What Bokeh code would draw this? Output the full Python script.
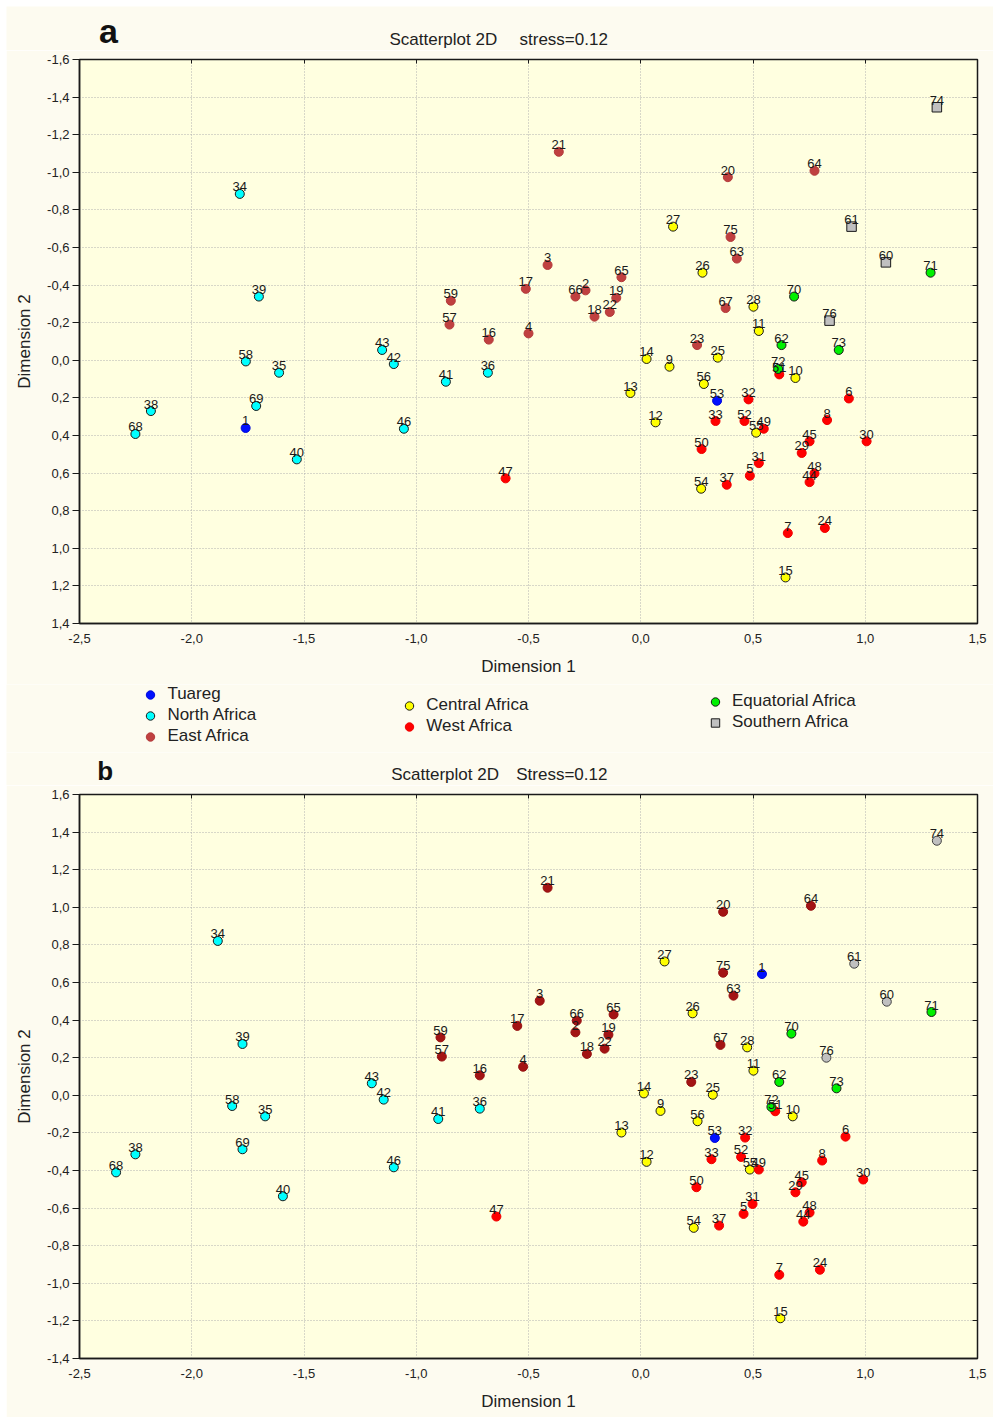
from bokeh.plotting import figure
from bokeh.models import (ColumnDataSource, Range1d, FixedTicker, LinearAxis,
                          CustomJSTickFormatter, Label, Legend, LegendItem)
from bokeh.layouts import column
from bokeh.core.properties import value
from bokeh.embed import file_html
from bokeh.resources import INLINE

FONT = "Liberation Sans"
PAGE_BG = "#FDFBF0"
PLOT_BG = "#FFFFE0"
INK = "#1A1A1A"

# ---- axis ticks ----------------------------------------------------------
X_TICKS = [-2.5, -2.0, -1.5, -1.0, -0.5, 0.0, 0.5, 1.0, 1.5]
Y_TICKS_A = [-1.6, -1.4, -1.2, -1.0, -0.8, -0.6, -0.4, -0.2, 0.0,
             0.2, 0.4, 0.6, 0.8, 1.0, 1.2, 1.4]
Y_TICKS_B = [-1.4, -1.2, -1.0, -0.8, -0.6, -0.4, -0.2, 0.0,
             0.2, 0.4, 0.6, 0.8, 1.0, 1.2, 1.4, 1.6]

# ---- MDS coordinates per population group --------------------------------
TUAREG_ID = [1, 53]
TUAREG_A_D1 = [-1.76, 0.34]
TUAREG_A_D2 = [0.36, 0.215]
TUAREG_B_D1 = [0.54, 0.33]
TUAREG_B_D2 = [0.645, -0.227]

NORTH_ID = [34, 39, 58, 35, 43, 42, 41, 36, 38, 68, 69, 46, 40]
NORTH_A_D1 = [-1.786, -1.701, -1.759, -1.611, -1.152, -1.100, -0.868,
              -0.681, -2.182, -2.251, -1.713, -1.055, -1.532]
NORTH_A_D2 = [-0.885, -0.339, 0.006, 0.066, -0.055, 0.020, 0.114,
              0.066, 0.270, 0.392, 0.243, 0.364, 0.527]
NORTH_B_D1 = [-1.884, -1.774, -1.820, -1.673, -1.198, -1.145, -0.902,
              -0.717, -2.251, -2.337, -1.774, -1.100, -1.594]
NORTH_B_D2 = [0.821, 0.273, -0.057, -0.112, 0.064, -0.023, -0.126,
              -0.071, -0.314, -0.410, -0.287, -0.383, -0.537]

EAST_ID = [2, 3, 4, 16, 17, 18, 19, 20, 21, 22, 23, 57, 59, 63, 64, 65, 66, 67, 75]
EAST_A_D1 = [-0.246, -0.415, -0.500, -0.677, -0.512, -0.206, -0.109, 0.388,
             -0.365, -0.138, 0.251, -0.852, -0.846, 0.428, 0.774, -0.086,
             -0.291, 0.378, 0.400]
EAST_A_D2 = [-0.372, -0.507, -0.143, -0.110, -0.380, -0.232, -0.332, -0.974,
             -1.109, -0.257, -0.081, -0.190, -0.317, -0.541, -1.008, -0.442,
             -0.339, -0.278, -0.656]
EAST_B_D1 = [-0.291, -0.450, -0.524, -0.717, -0.550, -0.240, -0.144, 0.367,
             -0.415, -0.161, 0.225, -0.886, -0.892, 0.413, 0.758, -0.121,
             -0.285, 0.355, 0.367]
EAST_B_D2 = [0.335, 0.503, 0.152, 0.106, 0.369, 0.220, 0.322, 0.976,
             1.104, 0.248, 0.071, 0.206, 0.308, 0.530, 1.008, 0.430,
             0.397, 0.268, 0.652]

CENTRAL_ID = [9, 10, 11, 12, 13, 14, 15, 25, 26, 27, 28, 54, 55, 56]
CENTRAL_A_D1 = [0.128, 0.689, 0.526, 0.066, -0.046, 0.026, 0.645, 0.343,
                0.275, 0.144, 0.502, 0.269, 0.514, 0.281]
CENTRAL_A_D2 = [0.034, 0.094, -0.156, 0.330, 0.174, -0.007, 1.155, -0.014,
                -0.466, -0.711, -0.285, 0.683, 0.385, 0.126]
CENTRAL_B_D1 = [0.088, 0.677, 0.502, 0.026, -0.086, 0.014, 0.622, 0.321,
                0.231, 0.106, 0.474, 0.236, 0.486, 0.253]
CENTRAL_B_D2 = [-0.083, -0.112, 0.131, -0.354, -0.198, 0.010, -1.186, 0.003,
                0.436, 0.712, 0.255, -0.705, -0.395, -0.138]

WEST_ID = [5, 6, 7, 8, 24, 29, 30, 31, 32, 33, 37, 44, 45, 47, 48, 49, 50, 51, 52]
WEST_A_D1 = [0.486, 0.927, 0.655, 0.830, 0.820, 0.717, 1.006, 0.526, 0.480,
             0.333, 0.383, 0.752, 0.752, -0.602, 0.774, 0.548, 0.271, 0.617, 0.462]
WEST_A_D2 = [0.614, 0.203, 0.919, 0.318, 0.892, 0.493, 0.431, 0.547, 0.208,
             0.323, 0.662, 0.648, 0.431, 0.628, 0.602, 0.364, 0.472, 0.075, 0.323]
WEST_B_D1 = [0.458, 0.912, 0.617, 0.808, 0.798, 0.689, 0.991, 0.498, 0.465,
             0.315, 0.349, 0.724, 0.717, -0.643, 0.752, 0.526, 0.248, 0.599, 0.447]
WEST_B_D2 = [-0.631, -0.220, -0.955, -0.347, -0.928, -0.516, -0.448, -0.578,
             -0.225, -0.340, -0.693, -0.672, -0.463, -0.645, -0.624, -0.395,
             -0.489, -0.085, -0.328]

EQUATORIAL_ID = [62, 70, 71, 72, 73]
EQUATORIAL_A_D1 = [0.627, 0.683, 1.291, 0.612, 0.882]
EQUATORIAL_A_D2 = [-0.081, -0.339, -0.466, 0.046, -0.055]
EQUATORIAL_B_D1 = [0.617, 0.671, 1.295, 0.582, 0.872]
EQUATORIAL_B_D2 = [0.071, 0.328, 0.443, -0.062, 0.037]

SOUTHERN_ID = [60, 61, 74, 76]
SOUTHERN_A_D1 = [1.092, 0.939, 1.319, 0.841]
SOUTHERN_A_D2 = [-0.521, -0.711, -1.346, -0.211]
SOUTHERN_B_D1 = [1.096, 0.951, 1.319, 0.827]
SOUTHERN_B_D2 = [0.498, 0.700, 1.354, 0.200]

GROUPS = [
    ("Tuareg", TUAREG_ID, TUAREG_A_D1, TUAREG_A_D2, TUAREG_B_D1, TUAREG_B_D2),
    ("North Africa", NORTH_ID, NORTH_A_D1, NORTH_A_D2, NORTH_B_D1, NORTH_B_D2),
    ("East Africa", EAST_ID, EAST_A_D1, EAST_A_D2, EAST_B_D1, EAST_B_D2),
    ("Central Africa", CENTRAL_ID, CENTRAL_A_D1, CENTRAL_A_D2, CENTRAL_B_D1, CENTRAL_B_D2),
    ("West Africa", WEST_ID, WEST_A_D1, WEST_A_D2, WEST_B_D1, WEST_B_D2),
    ("Equatorial Africa", EQUATORIAL_ID, EQUATORIAL_A_D1, EQUATORIAL_A_D2,
     EQUATORIAL_B_D1, EQUATORIAL_B_D2),
    ("Southern Africa", SOUTHERN_ID, SOUTHERN_A_D1, SOUTHERN_A_D2,
     SOUTHERN_B_D1, SOUTHERN_B_D2),
]

# marker styles: (marker, fill, outline)
STYLE_A = {
    "Tuareg": ("circle", "#0010FF", "#0008D8"),
    "North Africa": ("circle", "#00FFFF", INK),
    "East Africa": ("circle", "#C04040", "#B33A3A"),
    "Central Africa": ("circle", "#FFFF00", INK),
    "West Africa": ("circle", "#FF0000", "#F00000"),
    "Equatorial Africa": ("circle", "#00F000", INK),
    "Southern Africa": ("square", "#C0C0C0", INK),
}
STYLE_B = dict(STYLE_A)
STYLE_B["East Africa"] = ("circle", "#A31414", "#961010")
STYLE_B["Southern Africa"] = ("circle", "#C0C0C0", "#404040")

comma_fmt = CustomJSTickFormatter(code="return tick.toFixed(1).replace('.', ',');")
blank_fmt = CustomJSTickFormatter(code="return '';")


def blank_strip(height, margin):
    """A plain strip (no axes) used for headings and the legend."""
    s = figure(width=987, height=height, x_range=Range1d(0, 1), y_range=Range1d(0, 1),
               x_axis_type=None, y_axis_type=None, output_backend="svg",
               toolbar_location=None, min_border=0, margin=margin,
               min_border_left=0, min_border_right=0,
               min_border_top=0, min_border_bottom=0, frame_align=False,
               outline_line_color=None, background_fill_color=PAGE_BG,
               border_fill_color=PAGE_BG)
    return s


def make_panel(y_range, y_ticks, height, bottom, styles, which):
    p = figure(width=987, height=height, x_range=Range1d(-2.5, 1.5), y_range=y_range,
               output_backend="svg", toolbar_location=None,
               min_border_left=73, min_border_right=16,
               min_border_top=9, min_border_bottom=bottom, margin=(0, 2, 0, 6),
               background_fill_color=PLOT_BG, border_fill_color=PAGE_BG,
               outline_line_color=INK, outline_line_width=1.5)

    xt = FixedTicker(ticks=X_TICKS)
    yt = FixedTicker(ticks=y_ticks)

    xa = p.xaxis[0]
    xa.ticker = xt
    xa.formatter = comma_fmt
    xa.axis_label = "Dimension 1"
    xa.major_tick_out = 0
    xa.major_tick_in = 0
    xa.minor_tick_out = 0
    xa.minor_tick_in = 0
    xa.major_label_standoff = 10
    xa.axis_label_standoff = 11

    ya = p.yaxis[0]
    ya.ticker = yt
    ya.formatter = comma_fmt
    ya.axis_label = "Dimension 2"
    ya.major_tick_out = 7
    ya.major_tick_in = 0
    ya.minor_tick_out = 0
    ya.minor_tick_in = 0
    ya.major_label_standoff = 3
    ya.axis_label_standoff = 10
    ya.major_label_orientation = "horizontal"

    for ax in (xa, ya):
        ax.axis_line_color = INK
        ax.axis_line_width = 1.5
        ax.major_tick_line_color = INK
        ax.major_label_text_font = FONT
        ax.major_label_text_font_size = "13px"
        ax.major_label_text_color = "#222222"
        ax.axis_label_text_font = FONT
        ax.axis_label_text_font_size = "17px"
        ax.axis_label_text_font_style = "normal"
        ax.axis_label_text_color = "#222222"

    top_ax = LinearAxis(ticker=xt, formatter=blank_fmt, major_tick_in=4, major_tick_out=0,
                        minor_tick_in=0, minor_tick_out=0, major_label_text_font_size="0px",
                        major_label_standoff=0, axis_line_color=INK,
                        major_tick_line_color=INK)
    right_ax = LinearAxis(ticker=yt, formatter=blank_fmt, major_tick_in=5, major_tick_out=0,
                          minor_tick_in=0, minor_tick_out=0, major_label_text_font_size="0px",
                          major_label_standoff=0, axis_line_color=INK,
                          major_tick_line_color=INK)
    p.add_layout(top_ax, "above")
    p.add_layout(right_ax, "right")

    p.xgrid.ticker = xt
    p.ygrid.ticker = yt
    for g in (p.xgrid, p.ygrid):
        g.grid_line_color = "#B0B0B0"
        g.grid_line_dash = "1 2"
        g.grid_line_width = 1

    lab_x, lab_y, lab_t = [], [], []
    for name, ids, a1, a2, b1, b2 in GROUPS:
        d1, d2 = (a1, a2) if which == "a" else (b1, b2)
        marker, fill, line = styles[name]
        src = ColumnDataSource(dict(d1=d1, d2=d2, pop=[str(i) for i in ids]))
        p.scatter("d1", "d2", source=src, marker=marker,
                  size=9.5 if marker == "square" else 9,
                  fill_color=fill, line_color=line, line_width=1)
        lab_x += d1
        lab_y += d2
        lab_t += [str(i) for i in ids]

    lsrc = ColumnDataSource(dict(d1=lab_x, d2=lab_y, pop=lab_t))
    p.text("d1", "d2", text="pop", source=lsrc, text_font=value(FONT),
           text_font_size="13px", text_color=INK, text_align="center",
           text_baseline="alphabetic", y_offset=-7)
    return p


def heading(height, margin, letter, letter_x, letter_y, letter_size, parts):
    """Panel letter plus title pieces; y values give the vertical centre of each
    text line, measured up from the strip's bottom edge."""
    h = blank_strip(height, margin)
    h.add_layout(Label(x=letter_x, y=letter_y, x_units="screen", y_units="screen",
                       text=letter, text_font=FONT, text_font_size=letter_size,
                       text_font_style="bold", text_align="center",
                       text_baseline="middle", text_color="#111111"))
    for txt, tx, ty in parts:
        h.add_layout(Label(x=tx, y=ty, x_units="screen", y_units="screen",
                           text=txt, text_font=FONT, text_font_size="17px",
                           text_align="left", text_baseline="middle",
                           text_color="#222222"))
    return h


head_a = heading(44, (6, 2, 0, 6), "a", 102, 19.5, "34px",
                 [("Scatterplot 2D", 383, 11.5), ("stress=0.12", 513, 11.5)])
pa = make_panel(Range1d(1.4, -1.6), Y_TICKS_A, 634, 61, STYLE_A, "a")

# legend strip below panel a: three columns of group markers; each entry is
# bound to a hidden copy of its group's panel-a points
leg_strip = blank_strip(68, (0, 2, 0, 6))
group_data_a = {name: (a1, a2) for name, ids, a1, a2, b1, b2 in GROUPS}
LEGEND_COLUMNS = [
    (["Tuareg", "North Africa", "East Africa"], (133.4, 5.5)),
    (["Central Africa", "West Africa"], (392.3, 15.5)),
    (["Equatorial Africa", "Southern Africa"], (698, 19.5)),
]
for names, loc in LEGEND_COLUMNS:
    items = []
    for n in names:
        marker, fill, line = STYLE_A[n]
        d1, d2 = group_data_a[n]
        r = leg_strip.scatter(x=d1, y=d2, marker=marker, fill_color=fill,
                              line_color=line, line_width=1, visible=False)
        items.append(LegendItem(label=n, renderers=[r]))
    leg = Legend(items=items, location=loc, orientation="vertical",
                 padding=0, margin=0, spacing=0,
                 glyph_width=22, glyph_height=21, label_height=21,
                 label_standoff=6, label_text_font=FONT,
                 label_text_font_size="17px", label_text_color="#222222",
                 background_fill_alpha=0, border_line_color=None,
                 inactive_fill_alpha=0)
    leg_strip.add_layout(leg)

head_b = heading(33, (0, 2, 0, 6), "b", 98.7, 15, "26px",
                 [("Scatterplot 2D", 384.7, 11), ("Stress=0.12", 509.7, 11)])
pb = make_panel(Range1d(-1.4, 1.6), Y_TICKS_B, 632, 59, STYLE_B, "b")

layout = column(head_a, pa, leg_strip, head_b, pb, spacing=0)
open("out.html", "w").write(file_html(layout, INLINE))
